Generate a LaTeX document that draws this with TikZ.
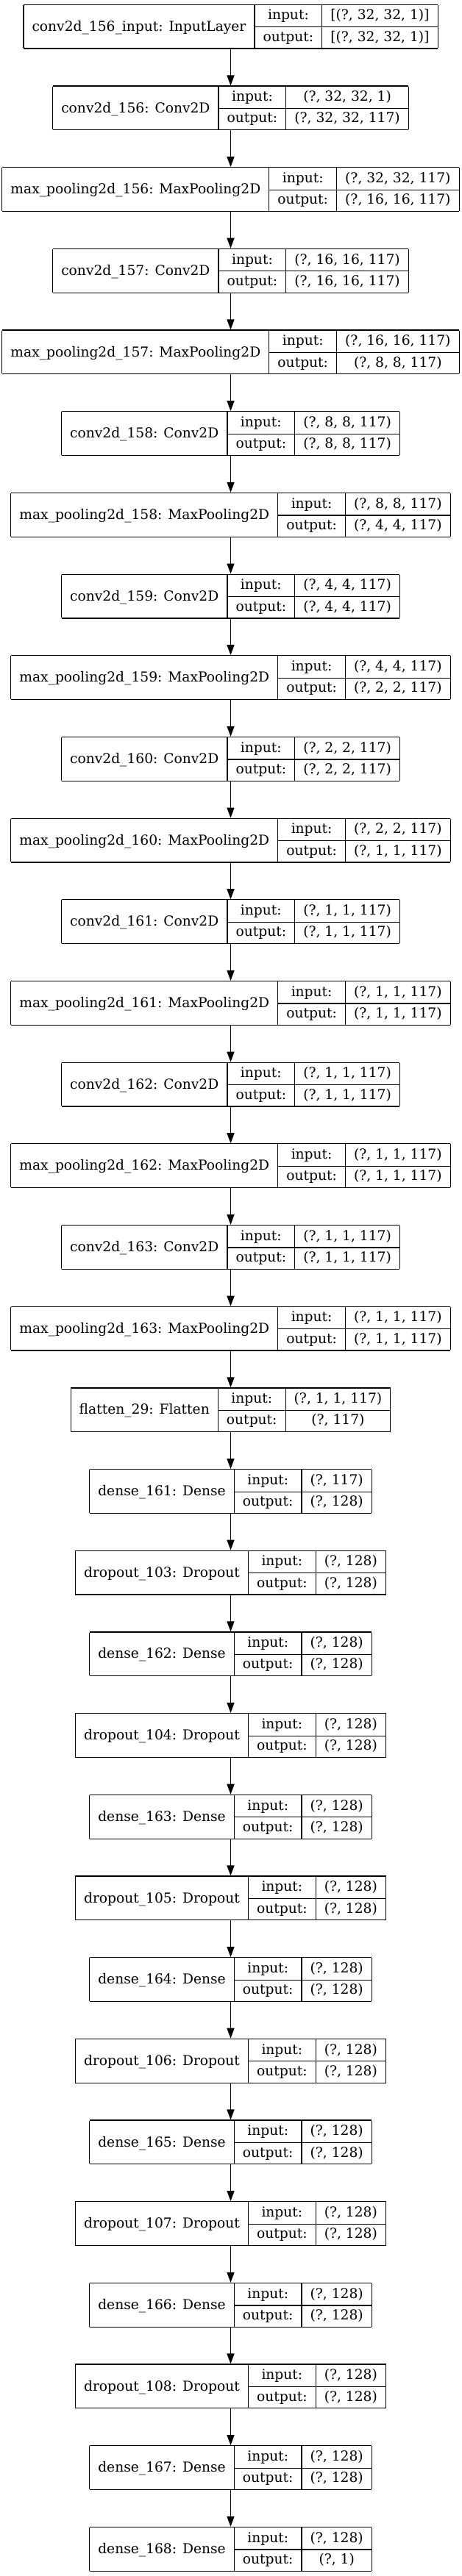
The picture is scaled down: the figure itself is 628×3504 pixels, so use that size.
\documentclass[tikz,border=0pt]{standalone}
\usepackage{fontspec}
\setmainfont{DejaVu Serif}
\usetikzlibrary{arrows.meta}
\newcommand\lfont{\fontsize{14pt}{16.8pt}\selectfont}
\setlength\tabcolsep{8.7pt}
\setlength\arrayrulewidth{0.9pt}
\newcommand\rowstrut{\rule[-6.9pt]{0pt}{21.975pt}}
\tikzset{
  x=0.75pt, y=-0.75pt,
  lay/.style={inner sep=0pt, outer sep=0pt, font=\lfont},
  arr/.style={draw=black, line width=0.9pt, -{Triangle[length=10.5pt,width=7.6pt]}}
}
% #1 node name, #2 top (px), #3 label, #4 input, #5 output
\newcommand\layer[5]{%
  \node[lay] (#1) at (313.5,#2+30.5) {%
    \begin{tabular}{|c|c|c|}\hline
      \raisebox{-11.5pt}[0pt][0pt]{#3} & input:\rowstrut & #4\\\cline{2-3}
      & output:\rowstrut & #5\\\hline
    \end{tabular}};%
}
\begin{document}
\begin{tikzpicture}
\useasboundingbox[fill=white] (0,0) rectangle (628,3504);
\def\sA{(?, 1, 1, 117)}
\def\sB{(?, 128)}
\layer{L0}{5.7}{conv2d\_156\_input: InputLayer}{[(?, 32, 32, 1)]}{[(?, 32, 32, 1)]}
\layer{L1}{116.4}{conv2d\_156: Conv2D}{(?, 32, 32, 1)}{(?, 32, 32, 117)}
\layer{L2}{227.1}{max\_pooling2d\_156: MaxPooling2D}{(?, 32, 32, 117)}{(?, 16, 16, 117)}
\layer{L3}{337.7}{conv2d\_157: Conv2D}{(?, 16, 16, 117)}{(?, 16, 16, 117)}
\layer{L4}{448.4}{max\_pooling2d\_157: MaxPooling2D}{(?, 16, 16, 117)}{(?, 8, 8, 117)}
\layer{L5}{559.1}{conv2d\_158: Conv2D}{(?, 8, 8, 117)}{(?, 8, 8, 117)}
\layer{L6}{669.8}{max\_pooling2d\_158: MaxPooling2D}{(?, 8, 8, 117)}{(?, 4, 4, 117)}
\layer{L7}{780.5}{conv2d\_159: Conv2D}{(?, 4, 4, 117)}{(?, 4, 4, 117)}
\layer{L8}{891.1}{max\_pooling2d\_159: MaxPooling2D}{(?, 4, 4, 117)}{(?, 2, 2, 117)}
\layer{L9}{1001.8}{conv2d\_160: Conv2D}{(?, 2, 2, 117)}{(?, 2, 2, 117)}
\layer{L10}{1112.5}{max\_pooling2d\_160: MaxPooling2D}{(?, 2, 2, 117)}{\sA}
\layer{L11}{1223.2}{conv2d\_161: Conv2D}{\sA}{\sA}
\layer{L12}{1333.9}{max\_pooling2d\_161: MaxPooling2D}{\sA}{\sA}
\layer{L13}{1444.6}{conv2d\_162: Conv2D}{\sA}{\sA}
\layer{L14}{1555.2}{max\_pooling2d\_162: MaxPooling2D}{\sA}{\sA}
\layer{L15}{1665.9}{conv2d\_163: Conv2D}{\sA}{\sA}
\layer{L16}{1776.6}{max\_pooling2d\_163: MaxPooling2D}{\sA}{\sA}
\layer{L17}{1887.3}{flatten\_29: Flatten}{\sA}{(?, 117)}
\layer{L18}{1998.0}{dense\_161: Dense}{(?, 117)}{\sB}
\layer{L19}{2108.6}{dropout\_103: Dropout}{\sB}{\sB}
\layer{L20}{2219.3}{dense\_162: Dense}{\sB}{\sB}
\layer{L21}{2330.0}{dropout\_104: Dropout}{\sB}{\sB}
\layer{L22}{2440.7}{dense\_163: Dense}{\sB}{\sB}
\layer{L23}{2551.4}{dropout\_105: Dropout}{\sB}{\sB}
\layer{L24}{2662.0}{dense\_164: Dense}{\sB}{\sB}
\layer{L25}{2772.7}{dropout\_106: Dropout}{\sB}{\sB}
\layer{L26}{2883.4}{dense\_165: Dense}{\sB}{\sB}
\layer{L27}{2994.1}{dropout\_107: Dropout}{\sB}{\sB}
\layer{L28}{3104.8}{dense\_166: Dense}{\sB}{\sB}
\layer{L29}{3215.4}{dropout\_108: Dropout}{\sB}{\sB}
\layer{L30}{3326.1}{dense\_167: Dense}{\sB}{\sB}
\layer{L31}{3436.8}{dense\_168: Dense}{\sB}{(?, 1)}
\foreach \a [evaluate=\a as \b using int(\a+1)] in {0,...,30}
  \draw[arr] (L\a.south) -- (L\b.north);
\end{tikzpicture}
\end{document}
